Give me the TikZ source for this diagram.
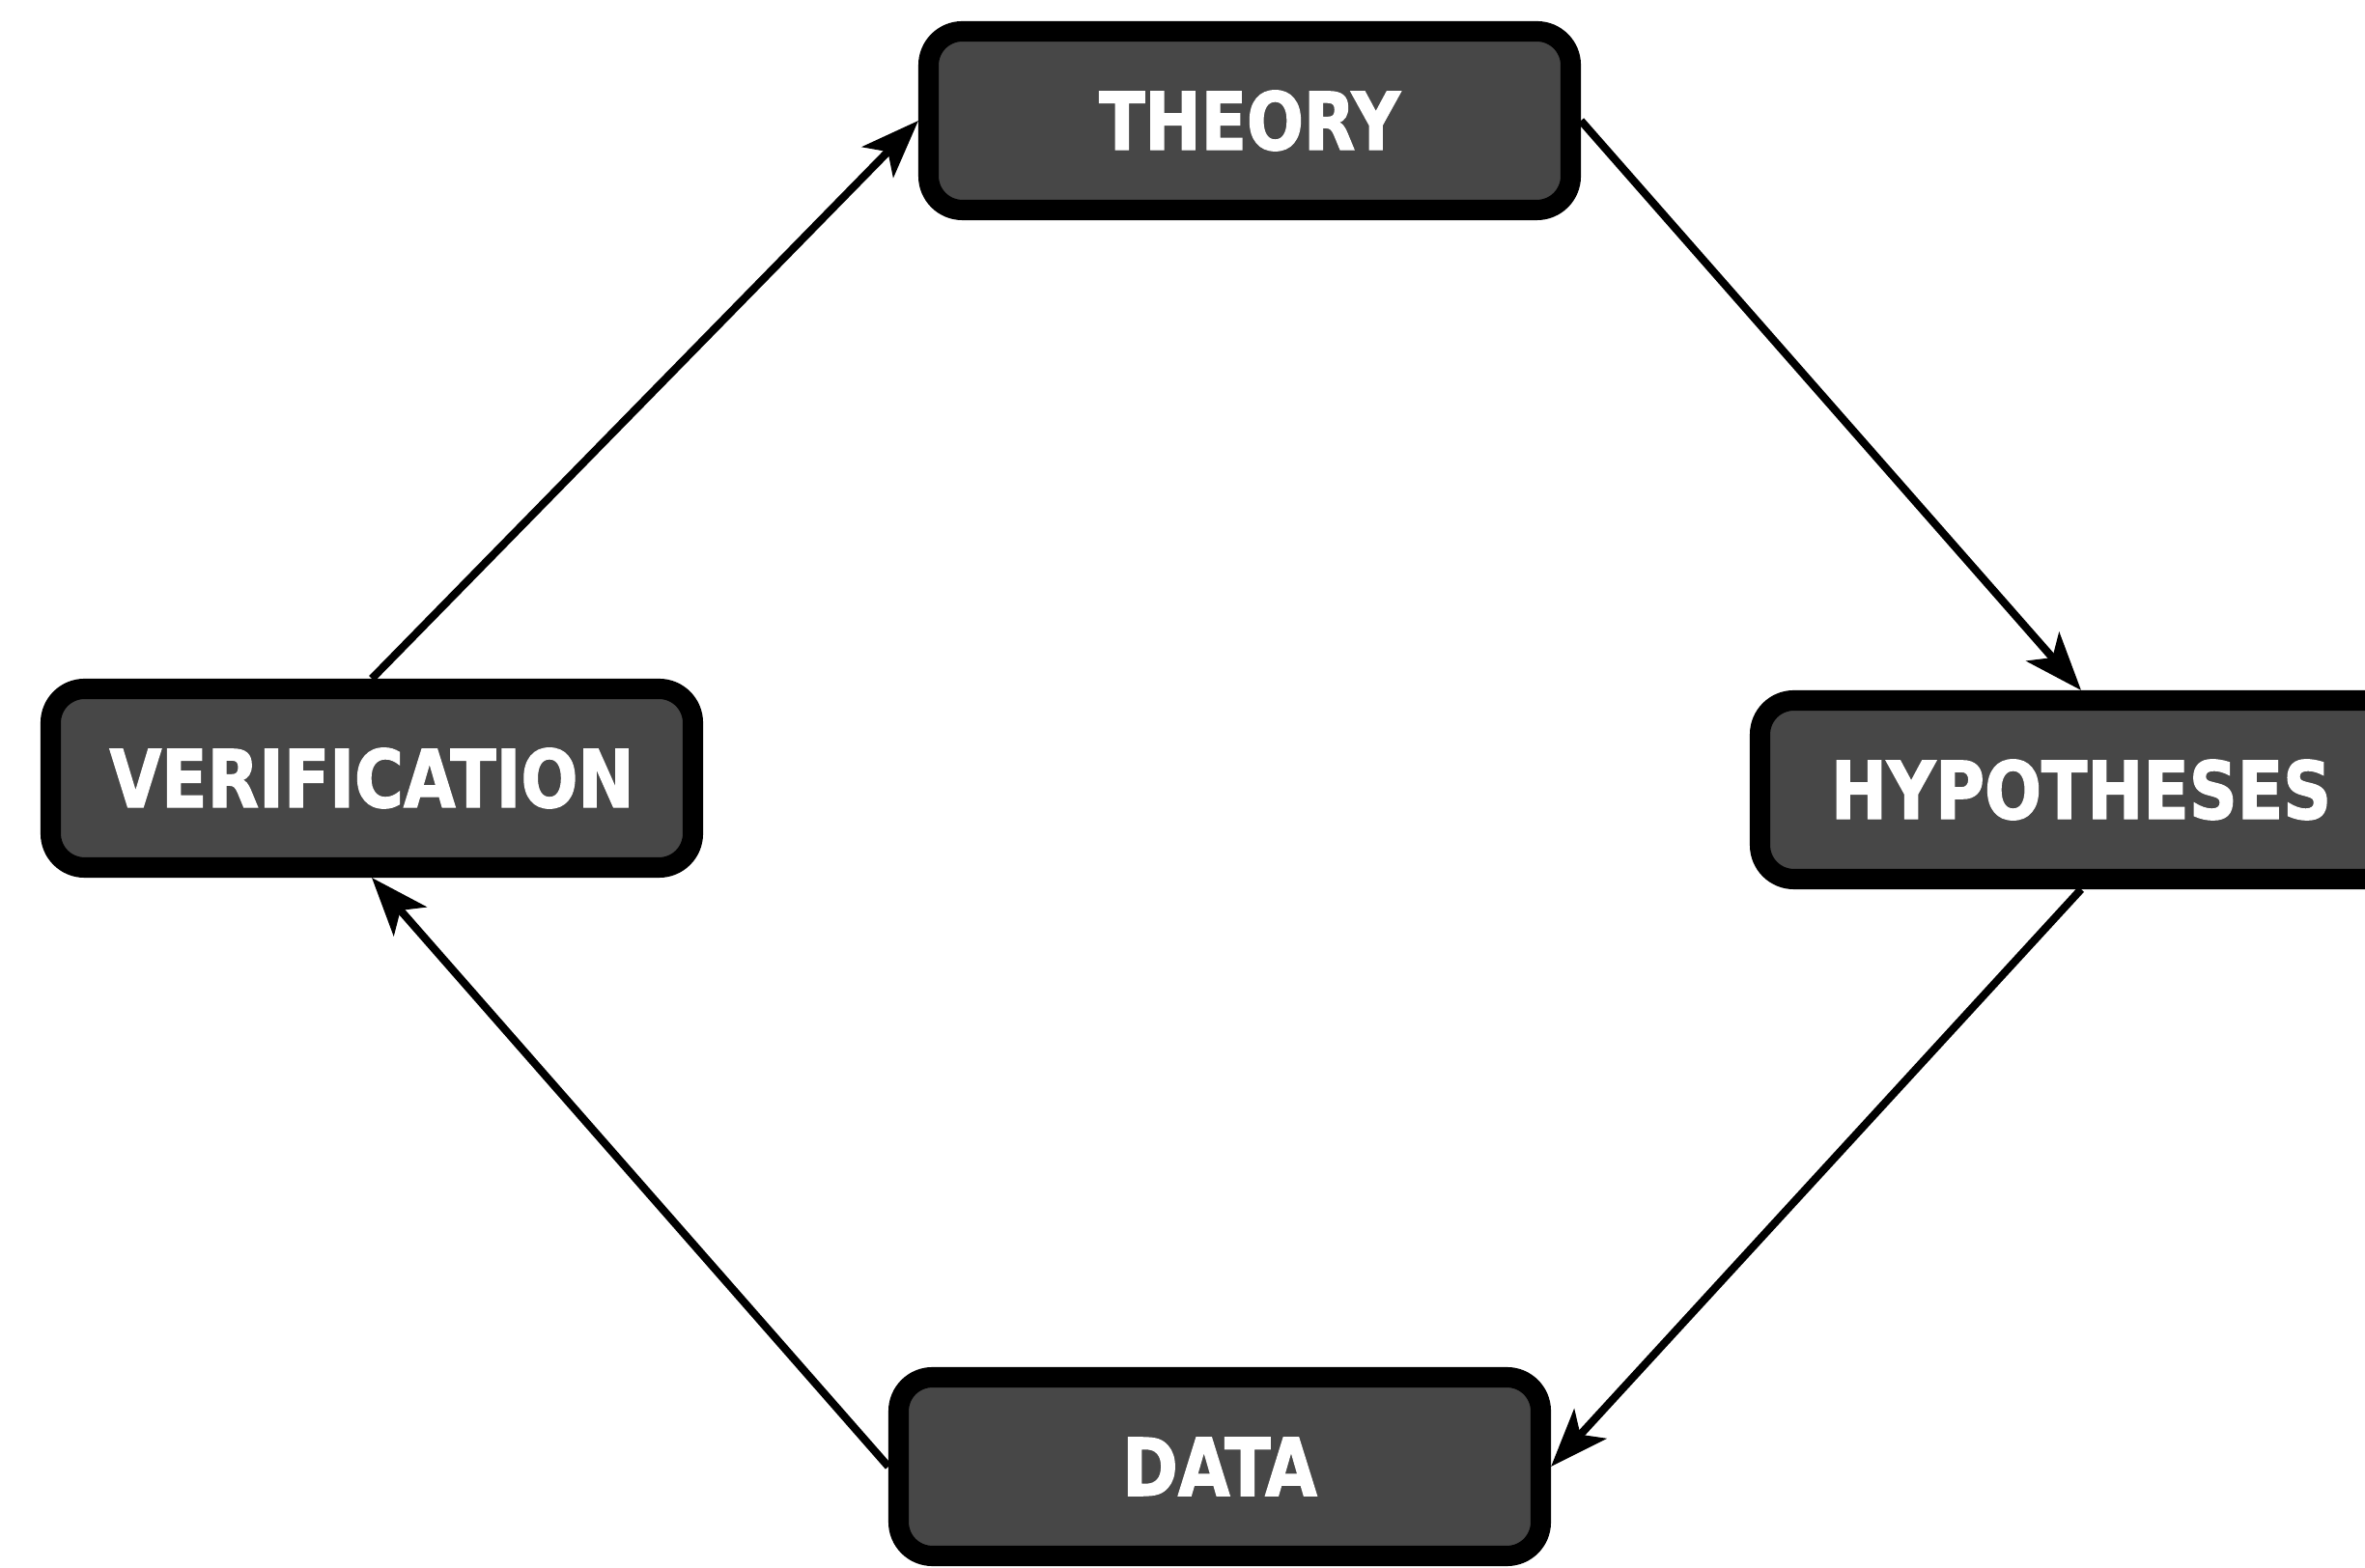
\documentclass[tikz,border=0pt]{standalone}
\usepackage{fontspec}
\setmainfont{DejaVu Sans}
\newfontfamily\stagefont{DejaVu Sans}[FakeStretch=0.84,FakeBold=1.6]
\usepackage{tikz}
\usetikzlibrary{arrows.meta}

\begin{document}
\begin{tikzpicture}[scale=1.0,
    stage/.style={draw=black,line width=6pt,fill=black!72,rounded corners=0.35cm,
      minimum width=6.65cm,minimum height=1.85cm,text=white,
      font=\stagefont\fontsize{23.5}{24}\selectfont\bfseries},
    flow/.style={line width=2.3pt,-{Stealth[length=0.6cm,width=0.45cm,inset=0.15cm]}}]
  \useasboundingbox (0,0) rectangle (24.49,16.23);
  \node[stage] (theory) at (12.94,14.98) {THEORY};
  \node[stage] (verif) at (3.85,8.17) {VERIFICATION};
  \node[stage] (hyp) at (21.55,8.05) {HYPOTHESES};
  \node[stage] (data) at (12.63,1.04) {DATA};
  \foreach \a/\b in {verif.north/theory.west,theory.east/hyp.north,
                     hyp.south/data.east,data.west/verif.south}{
    \draw[flow] (\a) -- (\b);
  }
\end{tikzpicture}
\end{document}
